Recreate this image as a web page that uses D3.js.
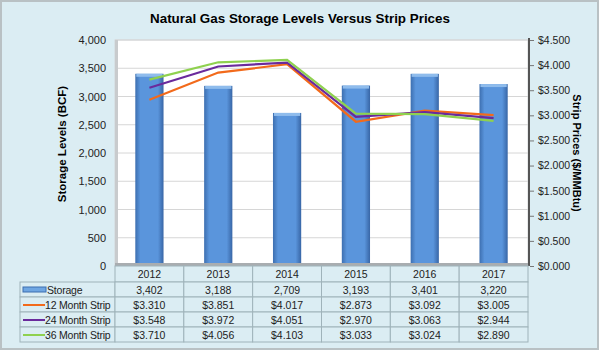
<!DOCTYPE html>
<html>
<head>
<meta charset="utf-8">
<script src="https://cdn.jsdelivr.net/npm/d3@7"></script>
<style>
  body { margin: 0; background: #fff; }
  svg { display: block; font-family: "Liberation Sans", Arial, sans-serif; }
</style>
</head>
<body>
<svg id="chart" width="600" height="351"></svg>
<script>
// chart data
const years = ["2012", "2013", "2014", "2015", "2016", "2017"];
const storage = [3402, 3188, 2709, 3193, 3401, 3220];
const strip12 = [3.310, 3.851, 4.017, 2.873, 3.092, 3.005];
const strip24 = [3.548, 3.972, 4.051, 2.970, 3.063, 2.944];
const strip36 = [3.710, 4.056, 4.103, 3.033, 3.024, 2.890];
const leftTicks = [0, 500, 1000, 1500, 2000, 2500, 3000, 3500, 4000];
const rightTicks = [0, 0.5, 1, 1.5, 2, 2.5, 3, 3.5, 4, 4.5];

const series = [
    { name: "12 Month Strip", values: strip12, color: "#f26a1b" },
    { name: "24 Month Strip", values: strip24, color: "#6a2a9c" },
    { name: "36 Month Strip", values: strip36, color: "#8fd14f" }
];

const svg = d3.select("#chart");
const plot = { left: 115, right: 528, top: 40, bottom: 266 };
const fs = "10.5px";

// background + frame
svg.append("rect")
    .attr("x", 1).attr("y", 1).attr("width", 597).attr("height", 348)
    .attr("fill", "#dbedf3").attr("stroke", "#b9c1c4").attr("stroke-width", 2);

svg.append("text")
    .attr("x", 300).attr("y", 23)
    .attr("text-anchor", "middle")
    .style("font-size", "13.4px").style("font-weight", "bold")
    .text("Natural Gas Storage Levels Versus Strip Prices");

const x = d3.scaleBand().domain(years)
    .range([plot.left, plot.right])
    .paddingInner(0.59).paddingOuter(0.295);

const yL = d3.scaleLinear().domain([0, 4000]).range([plot.bottom, plot.top]);
const yR = d3.scaleLinear().domain([0, 4.5]).range([plot.bottom, plot.top]);

// plot area
svg.append("rect")
    .attr("x", plot.left).attr("y", plot.top)
    .attr("width", plot.right - plot.left).attr("height", plot.bottom - plot.top)
    .attr("fill", "#fff").attr("stroke", "#d3d7d9");

svg.append("g")
    .selectAll("line")
    .data(leftTicks.slice(1))
    .join("line")
    .attr("x1", plot.left).attr("x2", plot.right)
    .attr("y1", d => yL(d)).attr("y2", d => yL(d))
    .attr("stroke", "#d6d6d6");

// 3d-ish wall and floor edges
svg.append("rect").attr("x", plot.left).attr("y", plot.top)
    .attr("width", 3).attr("height", plot.bottom - plot.top).attr("fill", "#c8cbcd");
svg.append("rect").attr("x", plot.left).attr("y", plot.bottom - 3)
    .attr("width", plot.right - plot.left).attr("height", 3).attr("fill", "#a9adb0");

// bars
const defs = svg.append("defs");
const grad = defs.append("linearGradient").attr("id", "barGrad");
grad.append("stop").attr("offset", "0%").attr("stop-color", "#3d6fb0");
grad.append("stop").attr("offset", "18%").attr("stop-color", "#5a95dc");
grad.append("stop").attr("offset", "80%").attr("stop-color", "#5a95dc");
grad.append("stop").attr("offset", "100%").attr("stop-color", "#3866a6");

svg.append("g")
    .selectAll("rect")
    .data(storage)
    .join("rect")
    .attr("x", (d, i) => x(years[i]))
    .attr("y", d => yL(d))
    .attr("width", x.bandwidth())
    .attr("height", d => plot.bottom - 3 - yL(d))
    .attr("fill", "url(#barGrad)");

svg.append("g")
    .selectAll("rect")
    .data(storage)
    .join("rect")
    .attr("x", (d, i) => x(years[i]) + 1)
    .attr("y", d => yL(d))
    .attr("width", x.bandwidth() - 2)
    .attr("height", 3)
    .attr("fill", "#8fbcec");

// lines
const line = d3.line()
    .x((d, i) => x(years[i]) + x.bandwidth() / 2)
    .y(d => yR(d));

svg.append("g")
    .selectAll("path")
    .data(series)
    .join("path")
    .attr("d", d => line(d.values))
    .attr("fill", "none")
    .attr("stroke", d => d.color)
    .attr("stroke-width", 2.2);

// left axis
const leftAxis = svg.append("g")
    .attr("transform", `translate(${plot.left - 9},0)`)
    .call(d3.axisLeft(yL).tickValues(leftTicks).tickSize(0).tickPadding(0).tickFormat(d3.format(",")));
leftAxis.select(".domain").remove();
leftAxis.selectAll("text").style("font-size", "11px").attr("fill", "#222")
    .attr("font-family", "Liberation Sans, Arial, sans-serif");

// right axis
svg.append("line")
    .attr("x1", plot.right + 1).attr("x2", plot.right + 1)
    .attr("y1", plot.top - 2).attr("y2", plot.bottom)
    .attr("stroke", "#555").attr("stroke-width", 2);
const rightAxis = svg.append("g")
    .attr("transform", `translate(${plot.right + 2},0)`)
    .call(d3.axisRight(yR).tickValues(rightTicks).tickSize(4).tickPadding(4)
        .tickFormat(d => "$" + d3.format(".3f")(d)));
rightAxis.select(".domain").remove();
rightAxis.selectAll("line").attr("stroke", "#777");
rightAxis.selectAll("text").style("font-size", fs).attr("fill", "#222")
    .attr("font-family", "Liberation Sans, Arial, sans-serif");

// axis titles
svg.append("text")
    .attr("transform", "translate(66,144) rotate(-90)")
    .attr("text-anchor", "middle")
    .style("font-size", "11.5px").style("font-weight", "bold")
    .text("Storage Levels (BCF)");
svg.append("text")
    .attr("transform", "translate(573,153) rotate(90)")
    .attr("text-anchor", "middle")
    .style("font-size", "11px").style("font-weight", "bold")
    .text("Strip Prices ($/MMBtu)");

// data table
const rowH = 15;
const tableTop = plot.bottom;
const labelLeft = 20;
const rows = [{ name: "Storage", values: storage.map(d3.format(",")), key: "bar" }]
    .concat(series.map(s => ({ name: s.name, values: s.values.map(v => "$" + d3.format(".3f")(v)), color: s.color })));

const cells = svg.append("g");
const labels = svg.append("g");
const cellStroke = "#9fb3ba";
const step = x.step();
const colX = i => plot.left + i * step;

// header row
years.forEach((yr, i) => {
    cells.append("rect")
        .attr("x", colX(i)).attr("y", tableTop)
        .attr("width", step).attr("height", rowH + 1)
        .attr("fill", "#dbedf3").attr("stroke", cellStroke);
    labels.append("text")
        .attr("x", colX(i) + step / 2).attr("y", tableTop + 12)
        .attr("text-anchor", "middle").style("font-size", fs).attr("fill", "#222")
        .text(yr);
});

rows.forEach((r, ri) => {
    const y0 = tableTop + rowH + 1 + ri * rowH;
    cells.append("rect")
        .attr("x", labelLeft).attr("y", y0)
        .attr("width", plot.left - labelLeft).attr("height", rowH)
        .attr("fill", "#dbedf3").attr("stroke", cellStroke);
    if (r.key === "bar") {
        labels.append("rect")
            .attr("x", labelLeft + 3).attr("y", y0 + 5)
            .attr("width", 23).attr("height", 5)
            .attr("fill", "#6fa6e2").attr("stroke", "#3d6fb0");
    } else {
        labels.append("line")
            .attr("x1", labelLeft + 3).attr("x2", labelLeft + 25)
            .attr("y1", y0 + 8).attr("y2", y0 + 8)
            .attr("stroke", r.color).attr("stroke-width", 2);
    }
    labels.append("text")
        .attr("x", r.key === "bar" ? labelLeft + 27 : labelLeft + 25)
        .attr("y", y0 + 11.5)
        .style("font-size", fs).style("letter-spacing", "-0.2px").attr("fill", "#222")
        .text(r.name);
    r.values.forEach((v, i) => {
        cells.append("rect")
            .attr("x", colX(i)).attr("y", y0)
            .attr("width", step).attr("height", rowH)
            .attr("fill", "#dbedf3").attr("stroke", cellStroke);
        labels.append("text")
            .attr("x", colX(i) + step / 2).attr("y", y0 + 11.5)
            .attr("text-anchor", "middle").style("font-size", fs).attr("fill", "#222")
            .text(v);
    });
});
</script>
</body>
</html>
